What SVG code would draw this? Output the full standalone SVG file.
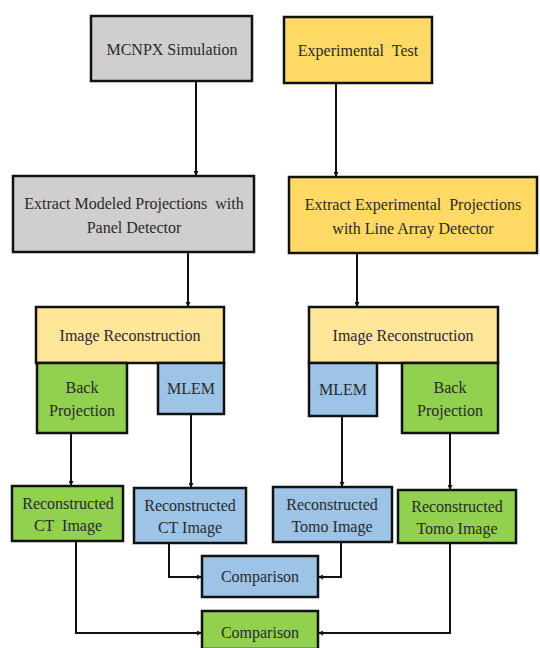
<svg xmlns="http://www.w3.org/2000/svg" width="540" height="648" viewBox="0 0 540 648">
<style>
rect{stroke:#111;stroke-width:2.5}
.g{fill:#d0cece}.y{fill:#ffd966}.ly{fill:#ffe699}.gr{fill:#92d050}.b{fill:#9dc3e6}
.c path{fill:none;stroke:#111;stroke-width:2}
</style>
<defs>
<marker id="a" viewBox="0 0 10 10" refX="10" refY="5" markerWidth="5" markerHeight="5" orient="auto" markerUnits="userSpaceOnUse">
<path d="M0,0L10,5L0,10z" fill="#111"/>
</marker>
</defs>
<g class="c">
<path d="M196,82V176" marker-end="url(#a)"/>
<path d="M336,83V177" marker-end="url(#a)"/>
<path d="M188,252V307" marker-end="url(#a)"/>
<path d="M357,253V307" marker-end="url(#a)"/>
<path d="M71,433V486" marker-end="url(#a)"/>
<path d="M191,414V488" marker-end="url(#a)"/>
<path d="M342,416V487" marker-end="url(#a)"/>
<path d="M450,433V490" marker-end="url(#a)"/>
<path d="M169,543V577H202" marker-end="url(#a)"/>
<path d="M341,542V577H318" marker-end="url(#a)"/>
<path d="M76,541V633H202" marker-end="url(#a)"/>
<path d="M450,543V633H318" marker-end="url(#a)"/>
</g>
<g id="mcnpx"><rect class="g" x="91" y="16" width="161" height="65"/><text x="172" y="55" font-family="Liberation Serif" font-size="16" fill="#2a2a2a" text-anchor="middle">MCNPX Simulation</text></g>
<g id="exptest"><rect class="y" x="284" y="17" width="148" height="66"/><text x="358" y="56" font-family="Liberation Serif" font-size="16" fill="#2a2a2a" text-anchor="middle" xml:space="preserve">Experimental  Test</text></g>
<g id="extractmod"><rect class="g" x="13" y="176" width="241" height="76"/><text x="134" y="209" font-family="Liberation Serif" font-size="16" fill="#2a2a2a" text-anchor="middle" xml:space="preserve">Extract Modeled Projections  with</text><text x="134" y="233" font-family="Liberation Serif" font-size="16" fill="#2a2a2a" text-anchor="middle">Panel Detector</text></g>
<g id="extractexp"><rect class="y" x="289" y="177" width="248" height="76"/><text x="413" y="210" font-family="Liberation Serif" font-size="16" fill="#2a2a2a" text-anchor="middle" xml:space="preserve">Extract Experimental  Projections</text><text x="413" y="234" font-family="Liberation Serif" font-size="16" fill="#2a2a2a" text-anchor="middle">with Line Array Detector</text></g>
<g id="reconL"><rect class="ly" x="36" y="307" width="188" height="56"/><text x="130" y="341" font-family="Liberation Serif" font-size="16" fill="#2a2a2a" text-anchor="middle">Image Reconstruction</text></g>
<g id="reconR"><rect class="ly" x="309" y="307" width="189" height="56"/><text x="403" y="341" font-family="Liberation Serif" font-size="16" fill="#2a2a2a" text-anchor="middle">Image Reconstruction</text></g>
<g id="bpL"><rect class="gr" x="37" y="363" width="90" height="70"/><text x="82" y="393" font-family="Liberation Serif" font-size="16" fill="#2a2a2a" text-anchor="middle">Back</text><text x="82" y="416" font-family="Liberation Serif" font-size="16" fill="#2a2a2a" text-anchor="middle">Projection</text></g>
<g id="mlemL"><rect class="b" x="158" y="363" width="66" height="51"/><text x="191" y="394" font-family="Liberation Serif" font-size="16" fill="#2a2a2a" text-anchor="middle">MLEM</text></g>
<g id="mlemR"><rect class="b" x="309" y="363" width="68" height="53"/><text x="343" y="395" font-family="Liberation Serif" font-size="16" fill="#2a2a2a" text-anchor="middle">MLEM</text></g>
<g id="bpR"><rect class="gr" x="402" y="363" width="96" height="70"/><text x="450" y="393" font-family="Liberation Serif" font-size="16" fill="#2a2a2a" text-anchor="middle">Back</text><text x="450" y="416" font-family="Liberation Serif" font-size="16" fill="#2a2a2a" text-anchor="middle">Projection</text></g>
<g id="ctG"><rect class="gr" x="12" y="486" width="111" height="55"/><text x="68" y="509" font-family="Liberation Serif" font-size="16" fill="#2a2a2a" text-anchor="middle">Reconstructed</text><text x="68" y="531" font-family="Liberation Serif" font-size="16" fill="#2a2a2a" text-anchor="middle" xml:space="preserve">CT  Image</text></g>
<g id="ctB"><rect class="b" x="134" y="488" width="112" height="55"/><text x="190" y="511" font-family="Liberation Serif" font-size="16" fill="#2a2a2a" text-anchor="middle">Reconstructed</text><text x="190" y="533" font-family="Liberation Serif" font-size="16" fill="#2a2a2a" text-anchor="middle">CT Image</text></g>
<g id="tomoB"><rect class="b" x="273" y="487" width="119" height="55"/><text x="332" y="510" font-family="Liberation Serif" font-size="16" fill="#2a2a2a" text-anchor="middle">Reconstructed</text><text x="332" y="532" font-family="Liberation Serif" font-size="16" fill="#2a2a2a" text-anchor="middle">Tomo Image</text></g>
<g id="tomoG"><rect class="gr" x="398" y="490" width="118" height="53"/><text x="457" y="512" font-family="Liberation Serif" font-size="16" fill="#2a2a2a" text-anchor="middle">Reconstructed</text><text x="457" y="534" font-family="Liberation Serif" font-size="16" fill="#2a2a2a" text-anchor="middle">Tomo Image</text></g>
<g id="compB"><rect class="b" x="202" y="556" width="116" height="41"/><text x="260" y="582" font-family="Liberation Serif" font-size="16" fill="#2a2a2a" text-anchor="middle">Comparison</text></g>
<g id="compG"><rect class="gr" x="202" y="611" width="116" height="38"/><text x="260" y="638" font-family="Liberation Serif" font-size="16" fill="#2a2a2a" text-anchor="middle">Comparison</text></g>
</svg>
